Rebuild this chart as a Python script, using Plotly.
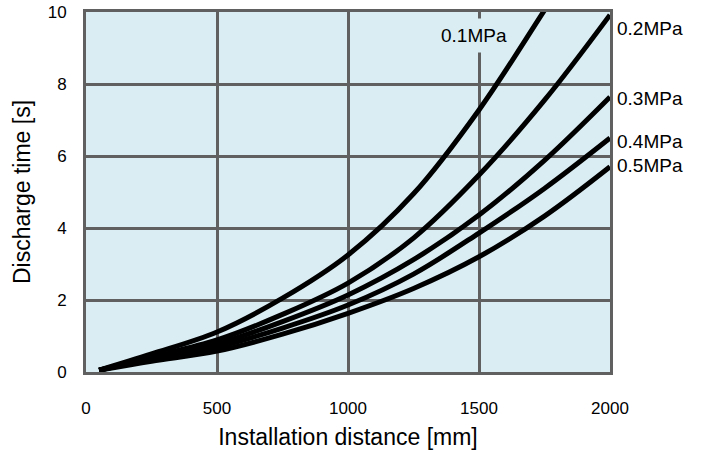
import plotly.graph_objects as go

distance_mm = [50, 250, 500, 750, 1000, 1250, 1500, 1750, 2000]
pressure_labels = ["0.1MPa", "0.2MPa", "0.3MPa", "0.4MPa", "0.5MPa"]
t_01 = [0.05, 0.50, 1.11, 2.05, 3.25, 4.95, 7.28, 10.05, 12.9]
t_02 = [0.05, 0.42, 0.89, 1.60, 2.47, 3.72, 5.47, 7.55, 9.92]
t_03 = [0.05, 0.38, 0.78, 1.40, 2.14, 3.12, 4.36, 5.88, 7.64]
t_04 = [0.05, 0.35, 0.69, 1.22, 1.86, 2.72, 3.86, 5.10, 6.50]
t_05 = [0.05, 0.30, 0.58, 1.05, 1.63, 2.32, 3.20, 4.33, 5.70]
series = [t_01, t_02, t_03, t_04, t_05]

x_ticks = [0, 500, 1000, 1500, 2000]
y_ticks = [0, 2, 4, 6, 8, 10]

right_label_y = [None, 9.55, 7.6, 6.39, 5.75]

BG = "#DAEDF3"
GRID = "#606060"
FONT = "Liberation Sans, Arial, sans-serif"

fig = go.Figure()
for name, ys in zip(pressure_labels, series):
    fig.add_trace(go.Scatter(
        x=distance_mm, y=ys, mode="lines", name=name,
        line=dict(color="black", width=5, shape="spline", smoothing=1.0),
        showlegend=False, hoverinfo="skip",
    ))

for name, ly in zip(pressure_labels[1:], right_label_y[1:]):
    fig.add_annotation(x=1, xref="paper", y=ly, yref="y", text=name,
                       showarrow=False, xanchor="left", xshift=5,
                       font=dict(size=19, color="black", family=FONT))

fig.add_annotation(x=1481, y=9.35, xref="x", yref="y", text="0.1MPa",
                   showarrow=False, bgcolor=BG, borderpad=6,
                   font=dict(size=19, color="black", family=FONT))

axis_common = dict(
    showgrid=True, gridcolor=GRID, gridwidth=3,
    showline=True, linecolor=GRID, linewidth=3, mirror=True,
    zeroline=False, ticks="", automargin=False,
    tickfont=dict(size=17, color="black", family=FONT),
)

fig.update_xaxes(range=[0, 2000], tickvals=x_ticks, ticklabelstandoff=19,
                 title=dict(text="Installation distance [mm]", standoff=14,
                            font=dict(size=23, color="black", family=FONT)),
                 **axis_common)
fig.update_yaxes(range=[0, 10], tickvals=y_ticks, ticklabelstandoff=13,
                 title=dict(text="Discharge time [s]", standoff=11,
                            font=dict(size=23, color="black", family=FONT)),
                 **axis_common)

fig.update_layout(
    width=708, height=450,
    margin=dict(l=86, r=98, t=12, b=78, autoexpand=False),
    plot_bgcolor=BG, paper_bgcolor="white",
    font=dict(family=FONT, color="black"),
)

fig.write_html("out.html", config={"displayModeBar": False},
               post_script="document.body.style.margin='0';document.body.style.overflow='hidden';")
